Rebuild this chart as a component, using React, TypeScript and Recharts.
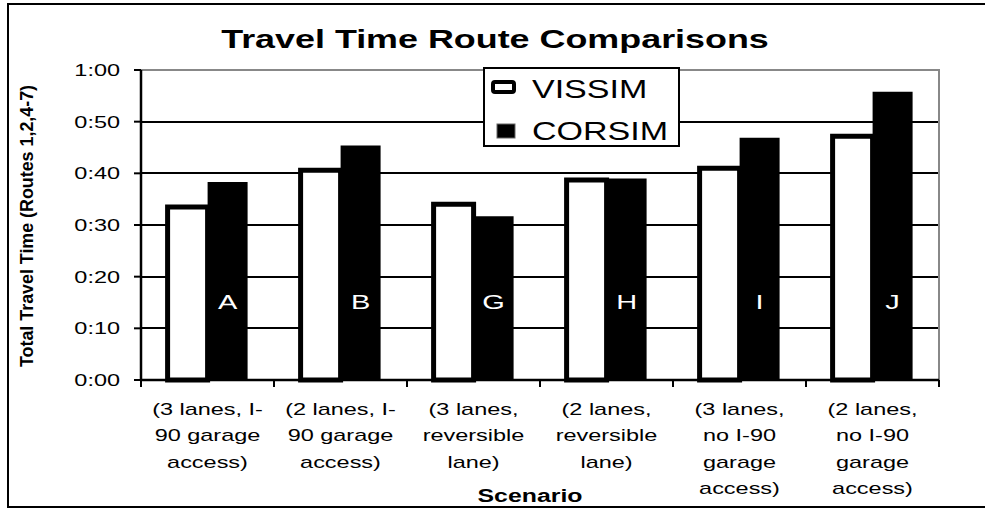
import {
  BarChart, Bar, XAxis, YAxis, CartesianGrid, Legend, LabelList, ReferenceArea,
} from "recharts";

// ── Data ───────────────────────────────────────────────────────────────
const seriesNames = ["VISSIM", "CORSIM"];
const scenarioCodes = ["A", "B", "G", "H", "I", "J"];
const scenarioLabels = [
  "(3 lanes, I-\n90 garage\naccess)",
  "(2 lanes, I-\n90 garage\naccess)",
  "(3 lanes,\nreversible\nlane)",
  "(2 lanes,\nreversible\nlane)",
  "(3 lanes,\nno I-90\ngarage\naccess)",
  "(2 lanes,\nno I-90\ngarage\naccess)",
];
// minutes
const vissimTimes = [33.5, 40.6, 34.0, 38.7, 41.0, 47.2];
const corsimTimes = [38.3, 45.4, 31.7, 39.0, 46.9, 55.8];
const yTicks = [0, 10, 20, 30, 40, 50, 60];

const data = scenarioCodes.map((code, i) => ({
  code,
  label: scenarioLabels[i],
  VISSIM: vissimTimes[i],
  CORSIM: corsimTimes[i],
}));

// ── Styling helpers ────────────────────────────────────────────────────
const FONT = "'Liberation Sans', Arial, sans-serif";
const SX = 1.38; // the source is stretched horizontally

const fmtTime = (v: number) => `${Math.floor(v / 60)}:${String(v % 60).padStart(2, "0")}`;

function TimeTick(props: any) {
  const { x, y, payload } = props;
  return (
    <g>
      <line x1={x - 7} x2={x} y1={y} y2={y} stroke="#000" strokeWidth={2} />
      <text transform={`translate(${x - 21},${y + 6}) scale(${SX},1)`} textAnchor="end"
        fontFamily={FONT} fontSize={17} fill="#000">
        {fmtTime(payload.value)}
      </text>
    </g>
  );
}

function ScenarioTick(props: any) {
  const { x, y, payload, index } = props;
  const half = typeof payload.offset === "number" && payload.offset > 0 ? payload.offset : 66.5;
  const i = scenarioCodes.indexOf(payload.value);
  const lines = (scenarioLabels[i] ?? "").split("\n");
  const last = index === scenarioCodes.length - 1;
  return (
    <g>
      <line x1={x - half} x2={x - half} y1={y} y2={y + 7} stroke="#000" strokeWidth={2} />
      {last && <line x1={x + half} x2={x + half} y1={y} y2={y + 7} stroke="#000" strokeWidth={2} />}
      <text transform={`translate(${x},${y + 35}) scale(${SX},1)`} textAnchor="middle"
        fontFamily={FONT} fontSize={17} fill="#000">
        {lines.map((l, k) => (
          <tspan key={k} x={0} dy={k === 0 ? 0 : 26.5}>{l}</tspan>
        ))}
      </text>
    </g>
  );
}

function CodeLabel(props: any) {
  const { x, y, width, height, value } = props;
  return (
    <text transform={`translate(${x + width / 2},${y + height - 71}) scale(${SX},1)`}
      textAnchor="middle" fontFamily={FONT} fontSize={21} fill="#fff">
      {value}
    </text>
  );
}

function LegendBox(props: any) {
  const items = [...(props.payload ?? [])].sort(
    (a: any, b: any) => seriesNames.indexOf(a.value) - seriesNames.indexOf(b.value)
  );
  return (
    <div style={{ width: 197, height: 80, border: "2px solid #000", background: "#fff", boxSizing: "border-box" }}>
      <svg width={193} height={76} style={{ display: "block" }}>
        {items.map((it: any, k: number) =>
          it.value === "VISSIM" ? (
            <g key={k}>
              <rect x={8} y={13} width={21} height={10} rx={2} fill="#fff" stroke="#000" strokeWidth={4} />
              <text transform={`translate(47,29) scale(1.36,1)`} fontFamily={FONT} fontSize={25} fill="#000">{it.value}</text>
            </g>
          ) : (
            <g key={k}>
              <rect x={12} y={55} width={18} height={14} fill="#000" stroke="#666" strokeWidth={1} />
              <text transform={`translate(47,71) scale(1.36,1)`} fontFamily={FONT} fontSize={25} fill="#000">{it.value}</text>
            </g>
          )
        )}
      </svg>
    </div>
  );
}

export default function App() {
  return (
    <div style={{ position: "absolute", left: 0, top: 0, width: 985, height: 510, background: "#fff", overflow: "hidden" }}>
      <BarChart width={985} height={510} data={data}
        margin={{ top: 70, right: 46, bottom: 0, left: 0 }}
        barGap={0} barCategoryGap="20%">
        <CartesianGrid horizontal vertical={false} stroke="#000" strokeWidth={2} shapeRendering="crispEdges" />
        <ReferenceArea y1={0} y2={60} fill="none" stroke="#888" strokeWidth={2} ifOverflow="visible"
          shapeRendering="crispEdges" />
        <Bar dataKey="VISSIM" fill="#fff" stroke="#000" strokeWidth={5} isAnimationActive={false} />
        <Bar dataKey="CORSIM" fill="#000" isAnimationActive={false}>
          <LabelList dataKey="code" content={CodeLabel} />
        </Bar>
        <XAxis dataKey="code" height={130} interval={0} tickLine={false} tickSize={0} tickMargin={0}
          axisLine={{ stroke: "#000", strokeWidth: 2.5 }} tick={ScenarioTick} />
        <YAxis width={141} domain={[0, 60]} ticks={yTicks} interval={0} tickLine={false} tickSize={0} tickMargin={0}
          axisLine={{ stroke: "#000", strokeWidth: 2.5 }} tick={TimeTick} />
        <Legend layout="vertical" align="center" verticalAlign="middle" content={LegendBox}
          wrapperStyle={{ left: 483, top: 67, width: 197, height: 80 }} />
      </BarChart>
      <svg width={985} height={510} style={{ position: "absolute", left: 0, top: 0, pointerEvents: "none" }}>
        <path d="M 985 4 L 8 4 L 8 507 L 985 507" fill="none" stroke="#000" strokeWidth={2} />
        <text transform={`translate(495,48) scale(${SX},1)`} textAnchor="middle"
          fontFamily={FONT} fontSize={26} fontWeight="bold" fill="#000">
          Travel Time Route Comparisons
        </text>
        <text transform="translate(33,226) rotate(-90) scale(1,1.38)" textAnchor="middle"
          fontFamily={FONT} fontSize={13} fontWeight="bold" fill="#000"
          textLength={282} lengthAdjust="spacingAndGlyphs">
          Total Travel Time (Routes 1,2,4-7)
        </text>
        <text transform={`translate(530,502) scale(${SX},1)`} textAnchor="middle"
          fontFamily={FONT} fontSize={18} fontWeight="bold" fill="#000">
          Scenario
        </text>
      </svg>
    </div>
  );
}
